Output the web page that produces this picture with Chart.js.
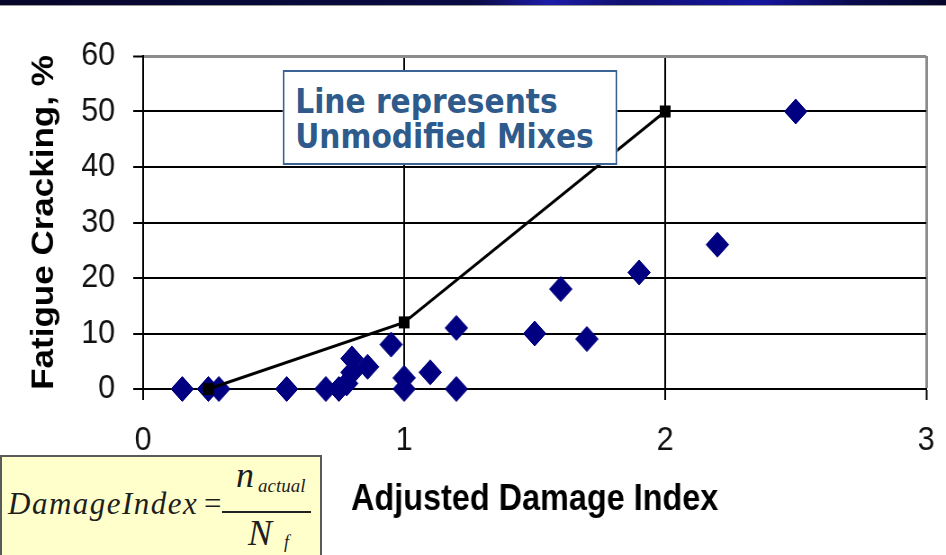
<!DOCTYPE html>
<html>
<head>
<meta charset="utf-8">
<script src="https://cdn.jsdelivr.net/npm/chart.js@4.4.1/dist/chart.umd.min.js"></script>
<style>
  html, body { margin: 0; padding: 0; background: #fff; overflow: hidden; }
  body { width: 946px; height: 555px; position: relative; }
  #banner {
    position: absolute; left: 0; top: 0; width: 946px; height: 5px;
    background: linear-gradient(90deg, #06062a 0%, #0a0a44 50%, #1c1ca8 58%, #101070 66%, #1515a0 80%, #0a0a50 90%, #05052a 100%);
    border-bottom: 1px solid #9a9a9a;
  }
  /* the whole drawing is laid out 1051px wide and narrowed to 946px */
  #stage {
    position: absolute; left: 0; top: 0; width: 1051px; height: 555px;
    transform: scaleX(0.90009); transform-origin: 0 0;
  }
  #chart { position: absolute; left: 0; top: 0; }
  #note {
    position: absolute; left: 314px; top: 70px; width: 356px; height: 79px;
    border: 2px solid #3b6494; background: #fff;
    padding: 12px 0 0 12px;
    font-family: "DejaVu Sans", sans-serif; font-weight: bold; font-size: 33px;
    line-height: 35px; color: #2e5b8c; white-space: nowrap;
  }
  #formula {
    position: absolute; left: 0; top: 455px; width: 318px; height: 110px;
    background: #ffffcc; border: 2px solid #5a5a5a;
    font-family: "Liberation Serif", "Times New Roman", serif; font-style: italic; color: #1e1e1e;
  }
  #formula span { position: absolute; line-height: 1; white-space: nowrap; }
  #formula .bar { position: absolute; left: 220px; top: 54px; width: 89px; height: 2px; background: #222; }
</style>
</head>
<body>
<div id="banner"></div>
<div id="stage">
  <canvas id="chart" width="1051" height="555"></canvas>
  <div id="note">Line represents<br>Unmodified Mixes</div>
</div>
<div id="formula">
  <span style="left:6px; top:31px; font-size:31px; letter-spacing:1.5px;">DamageIndex</span>
  <span style="left:202px; top:31px; font-size:31px; font-style:normal;">=</span>
  <span style="left:234px; top:0px; font-size:36px;">n</span>
  <span style="left:256px; top:19px; font-size:19px;">actual</span>
  <div class="bar"></div>
  <span style="left:246px; top:58px; font-size:36px;">N</span>
  <span style="left:282px; top:76px; font-size:18px;">f</span>
</div>
<script>
// Damage index vs. fatigue cracking, individual sections
const damageIndex = [0.15, 0.25, 0.29, 0.55, 0.70, 0.75, 0.78, 0.80, 0.80, 0.86, 0.95, 1.00, 1.00, 1.10, 1.20, 1.20, 1.50, 1.60, 1.70, 1.90, 2.20, 2.50];
const crackingPct = [0, 0, 0, 0, 0, 0, 1, 3, 5.5, 4, 8, 2, 0, 3, 11, 0, 10, 18, 9, 21, 26, 50];

// Unmodified mixes trend line
const unmodDamage = [0.25, 1, 2];
const unmodCracking = [0, 12, 50];

// Axis ranges and tick steps
const xTicks = [0, 1, 2, 3];
const yTicks = [0, 10, 20, 30, 40, 50, 60];

const toPoints = (xs, ys) => xs.map((x, i) => ({ x: x, y: ys[i] }));

const tickFont = { family: "'Liberation Sans', Arial, sans-serif", size: 34 };
const xTitleFont = { family: "'Liberation Sans', Arial, sans-serif", size: 36, weight: 'bold' };
const yTitleFont = { family: "'Liberation Sans', Arial, sans-serif", size: 35, weight: 'bold' };

const frameGray = '#8c8c8c';

new Chart(document.getElementById('chart'), {
  type: 'scatter',
  data: {
    datasets: [
      {
        label: 'Unmodified Mixes',
        data: toPoints(unmodDamage, unmodCracking),
        showLine: true,
        borderColor: '#000',
        borderWidth: 3,
        pointStyle: 'rect',
        pointRadius: 8.5,
        pointBackgroundColor: '#000',
        pointBorderColor: '#000',
        pointBorderWidth: 0,
        tension: 0,
        clip: false
      },
      {
        label: 'Mixes',
        data: toPoints(damageIndex, crackingPct),
        showLine: false,
        pointStyle: 'rectRot',
        pointRadius: 12.5,
        pointBackgroundColor: '#000080',
        pointBorderColor: '#000080',
        pointBorderWidth: 1,
        clip: false
      }
    ]
  },
  options: {
    responsive: false,
    animation: false,
    devicePixelRatio: 1,
    layout: { padding: { top: 56, right: 22, bottom: 0, left: 0 } },
    plugins: { legend: { display: false }, tooltip: { enabled: false } },
    scales: {
      x: {
        type: 'linear',
        min: xTicks[0],
        max: xTicks[xTicks.length - 1],
        afterBuildTicks: s => { s.ticks = xTicks.map(v => ({ value: v })); },
        afterFit: s => { s.height = 166; s.paddingLeft = 0; s.paddingRight = 0; },
        ticks: { font: tickFont, color: '#111', padding: 20, maxRotation: 0, autoSkip: false },
        grid: {
          color: c => (c.tick && c.tick.value === 3) ? frameGray : '#000',
          lineWidth: c => (c.tick && c.tick.value === 3) ? 3 : 2,
          tickColor: '#000',
          tickLength: 11,
          tickWidth: 2
        },
        border: { color: '#000', width: 2 },
        title: {
          display: true,
          text: 'Adjusted Damage Index',
          font: xTitleFont,
          color: '#000',
          padding: { top: 0, bottom: 33 }
        }
      },
      y: {
        type: 'linear',
        min: yTicks[0],
        max: yTicks[yTicks.length - 1],
        afterBuildTicks: s => { s.ticks = yTicks.map(v => ({ value: v })); },
        afterFit: s => { s.width = 159; },
        ticks: { font: tickFont, color: '#111', padding: 20, autoSkip: false },
        grid: {
          color: c => (c.tick && c.tick.value === 60) ? frameGray : '#000',
          lineWidth: c => (c.tick && c.tick.value === 60) ? 3 : 2,
          tickColor: '#000',
          tickLength: 11,
          tickWidth: 2
        },
        border: { color: '#000', width: 2 },
        title: {
          display: true,
          text: 'Fatigue Cracking, %',
          font: yTitleFont,
          color: '#000',
          padding: { top: 28, bottom: 0 }
        }
      }
    }
  }
});
</script>
</body>
</html>
